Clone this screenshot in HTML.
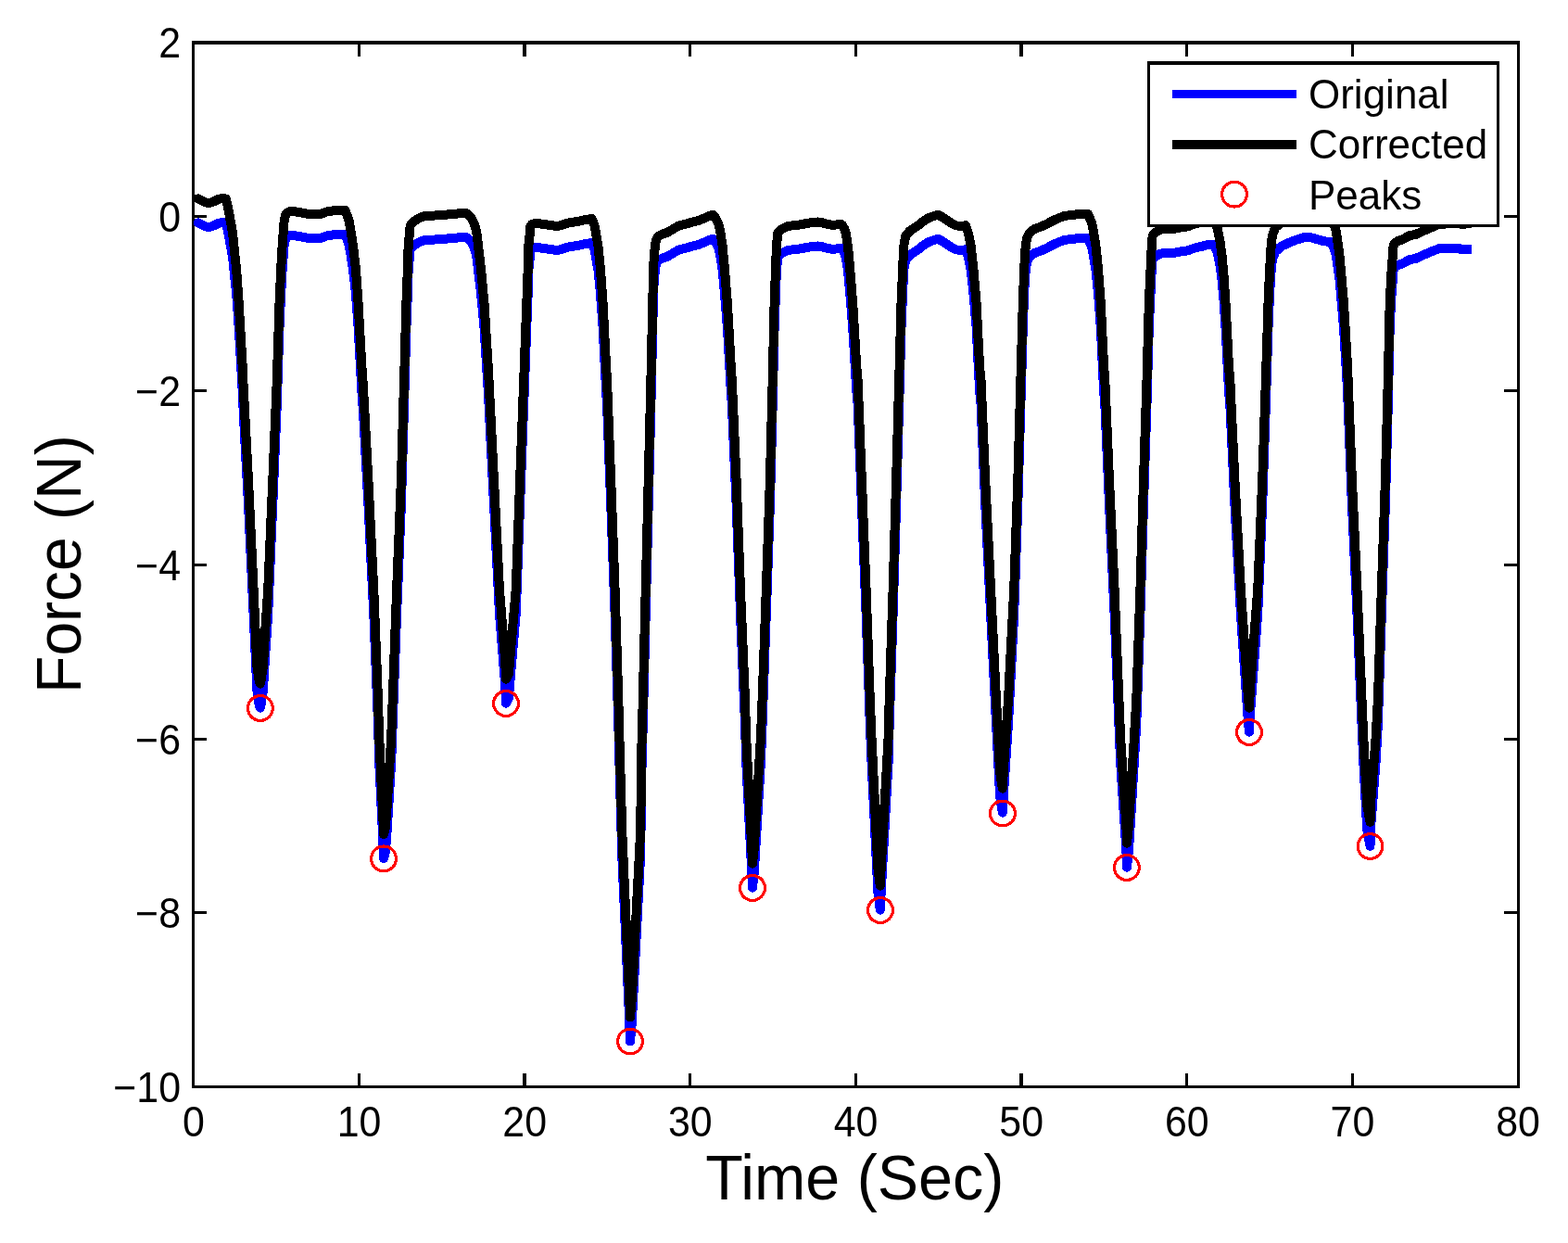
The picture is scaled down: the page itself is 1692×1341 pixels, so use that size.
<!DOCTYPE html>
<html lang="en"><head><meta charset="utf-8"><title>Force vs Time</title>
<style>
html,body{margin:0;padding:0;background:#fff;}
body{width:1692px;height:1341px;overflow:hidden;}
svg{display:block;}
text{font-family:"Liberation Sans",Arial,Helvetica,sans-serif;fill:#000;}
.tk{font-size:44px;}
.lb{font-size:66px;}
</style></head><body>
<svg width="1692" height="1341" viewBox="0 0 1692 1341">
<rect x="0" y="0" width="1692" height="1341" fill="#fff"/>
<g shape-rendering="crispEdges">
<rect x="207" y="44" width="1433" height="4" fill="#000"/>
<rect x="207" y="1171" width="1433" height="3" fill="#000"/>
<rect x="207" y="44" width="3" height="1130" fill="#000"/>
<rect x="1637" y="44" width="3" height="1130" fill="#000"/>
<rect x="386" y="1158" width="3" height="13" fill="#000"/>
<rect x="386" y="48" width="3" height="13" fill="#000"/>
<rect x="564" y="1158" width="4" height="13" fill="#000"/>
<rect x="564" y="48" width="4" height="13" fill="#000"/>
<rect x="743" y="1158" width="3" height="13" fill="#000"/>
<rect x="743" y="48" width="3" height="13" fill="#000"/>
<rect x="922" y="1158" width="3" height="13" fill="#000"/>
<rect x="922" y="48" width="3" height="13" fill="#000"/>
<rect x="1100" y="1158" width="4" height="13" fill="#000"/>
<rect x="1100" y="48" width="4" height="13" fill="#000"/>
<rect x="1279" y="1158" width="3" height="13" fill="#000"/>
<rect x="1279" y="48" width="3" height="13" fill="#000"/>
<rect x="1458" y="1158" width="3" height="13" fill="#000"/>
<rect x="1458" y="48" width="3" height="13" fill="#000"/>
<rect x="210" y="232" width="13" height="3" fill="#000"/>
<rect x="1623" y="232" width="14" height="3" fill="#000"/>
<rect x="210" y="420" width="13" height="3" fill="#000"/>
<rect x="1623" y="420" width="14" height="3" fill="#000"/>
<rect x="210" y="608" width="13" height="3" fill="#000"/>
<rect x="1623" y="608" width="14" height="3" fill="#000"/>
<rect x="210" y="796" width="13" height="3" fill="#000"/>
<rect x="1623" y="796" width="14" height="3" fill="#000"/>
<rect x="210" y="983" width="13" height="3" fill="#000"/>
<rect x="1623" y="983" width="14" height="3" fill="#000"/>
</g>
<g fill="none" stroke-linejoin="round" stroke-linecap="butt" stroke-width="10.0" shape-rendering="crispEdges">
<path stroke="#0000ff" d="M213.60,240.30 L218.00,242.40 L222.00,244.50 L227.00,244.70 L231.00,243.20 L235.00,241.20 L238.50,240.20 L241.00,240.10 L243.60,240.50 L246.00,249.40 L248.60,263.60 L251.10,277.70 L252.50,291.90 L253.90,306.10 L255.10,316.00 L257.70,353.20 L261.70,421.80 L262.80,446.00 L268.00,544.20 L273.60,662.40 L276.05,716.00 L277.50,745.50 L279.60,760.30 L280.90,763.60 L281.50,760.30 L283.90,745.50 L285.60,716.00 L289.20,662.40 L294.30,544.20 L298.80,436.00 L301.50,353.20 L303.20,316.00 L304.60,291.90 L305.60,277.70 L306.70,263.60 L308.50,257.00 L311.50,254.50 L314.80,254.00 L321.90,254.80 L332.60,257.00 L339.60,257.50 L346.70,256.70 L351.70,254.60 L360.90,253.10 L368.00,253.00 L372.50,253.10 L376.50,263.60 L379.00,277.70 L381.10,291.90 L383.90,316.00 L386.60,353.20 L390.40,421.80 L392.10,446.00 L397.40,544.20 L403.30,662.40 L408.00,780.60 L409.20,822.00 L413.30,906.00 L414.00,926.00 L415.50,920.80 L417.00,906.00 L422.20,822.00 L423.70,780.60 L428.10,662.40 L432.90,544.20 L435.80,446.00 L438.40,353.20 L439.90,316.00 L440.60,291.90 L441.90,277.70 L442.70,269.20 L447.00,264.80 L451.60,261.60 L458.30,258.90 L463.70,258.90 L476.40,258.00 L488.80,257.00 L498.00,256.00 L503.00,256.00 L508.30,260.70 L512.60,269.60 L514.70,279.50 L516.10,291.90 L519.00,316.00 L522.50,353.20 L527.00,426.00 L533.00,544.20 L539.00,662.40 L545.30,741.00 L546.00,758.60 L549.00,752.80 L549.85,741.00 L556.70,662.40 L561.10,544.20 L565.20,436.00 L568.30,353.20 L569.70,316.00 L570.30,291.90 L571.80,277.70 L572.40,269.90 L574.20,267.80 L577.70,267.00 L579.90,267.00 L587.00,268.00 L593.30,268.90 L600.40,270.00 L605.40,269.20 L609.60,267.50 L614.60,266.20 L622.40,265.10 L627.40,264.00 L630.90,263.10 L635.20,262.50 L638.70,262.10 L641.90,270.60 L643.10,277.70 L645.50,291.90 L647.90,316.00 L650.60,353.20 L654.10,421.80 L655.00,436.00 L659.20,544.20 L663.60,662.40 L667.30,780.60 L668.40,822.00 L671.30,924.20 L679.30,1104.00 L680.00,1123.50 L681.80,1104.00 L691.10,924.20 L692.60,822.00 L693.80,780.60 L696.70,662.40 L699.70,544.20 L702.40,436.00 L704.30,353.20 L705.00,316.00 L706.10,299.00 L707.40,288.40 L707.70,285.50 L709.90,281.30 L714.10,278.80 L720.50,276.70 L725.50,273.60 L732.60,269.50 L739.60,267.80 L746.70,265.70 L753.80,264.00 L760.90,261.10 L764.50,259.40 L768.00,258.10 L770.10,258.00 L775.20,267.10 L777.60,277.70 L779.70,291.90 L781.90,316.00 L784.90,353.20 L788.80,421.80 L789.80,436.00 L794.60,544.20 L799.00,662.40 L804.00,780.60 L805.20,822.00 L811.30,941.00 L812.00,957.65 L813.80,941.00 L820.90,822.00 L822.60,780.60 L826.80,662.40 L830.90,544.20 L833.70,436.00 L835.60,353.20 L837.00,316.00 L837.90,291.90 L838.90,281.30 L839.50,276.70 L844.50,272.60 L850.10,269.90 L857.60,269.10 L865.40,268.20 L869.60,267.10 L876.00,266.10 L882.10,265.50 L886.70,266.10 L891.60,267.50 L898.70,268.90 L905.10,268.10 L908.30,268.20 L910.80,272.00 L912.70,277.70 L915.00,291.90 L917.20,316.00 L920.20,353.20 L924.30,421.80 L925.60,436.00 L929.90,544.20 L934.60,662.40 L938.80,780.60 L940.50,822.00 L947.50,964.00 L949.80,981.65 L950.60,964.00 L958.60,822.00 L959.70,780.60 L963.60,662.40 L967.10,544.20 L970.20,436.00 L972.50,353.20 L974.10,316.00 L974.90,299.00 L975.60,288.40 L977.30,280.20 L982.00,274.90 L989.40,270.30 L995.80,265.00 L1002.50,260.90 L1008.90,258.60 L1012.80,258.00 L1018.80,261.40 L1025.90,266.50 L1031.60,269.40 L1038.30,269.90 L1041.90,269.20 L1044.90,277.70 L1047.70,291.90 L1050.40,316.00 L1053.60,353.20 L1057.10,421.80 L1058.50,436.00 L1063.20,544.20 L1069.10,662.40 L1075.00,780.60 L1079.10,859.00 L1081.80,876.65 L1082.80,859.00 L1088.00,780.60 L1094.20,662.40 L1098.30,544.20 L1101.40,436.00 L1103.80,353.20 L1105.20,316.00 L1106.10,299.00 L1107.10,288.40 L1108.40,282.00 L1111.20,277.00 L1116.20,273.10 L1124.70,269.90 L1131.10,267.00 L1134.60,264.80 L1141.70,261.60 L1148.80,258.90 L1155.90,258.00 L1163.00,257.20 L1170.10,257.00 L1174.20,257.20 L1178.30,267.10 L1180.20,277.70 L1182.50,291.90 L1185.00,316.00 L1187.80,353.20 L1191.10,421.80 L1192.30,436.00 L1197.00,544.20 L1202.60,662.40 L1207.40,780.60 L1209.10,822.00 L1215.45,918.00 L1215.90,935.65 L1217.95,918.00 L1223.90,822.00 L1226.30,780.60 L1230.40,662.40 L1234.00,544.20 L1237.50,436.00 L1239.80,353.20 L1241.30,321.90 L1242.20,300.60 L1243.10,286.50 L1243.60,280.80 L1246.30,276.90 L1251.20,274.00 L1256.20,272.90 L1264.70,273.50 L1270.40,271.90 L1281.70,270.40 L1288.80,267.60 L1295.90,266.10 L1303.00,264.10 L1306.60,264.00 L1310.10,264.10 L1313.80,272.30 L1316.50,286.50 L1318.40,300.60 L1320.40,321.90 L1322.50,353.20 L1326.00,421.80 L1327.30,436.00 L1332.40,544.20 L1338.90,662.40 L1346.40,771.00 L1347.90,789.65 L1348.90,771.00 L1357.20,662.40 L1362.20,544.20 L1365.90,436.00 L1368.50,353.20 L1369.90,321.90 L1371.00,300.60 L1372.00,286.50 L1373.60,278.00 L1376.30,271.60 L1382.00,266.10 L1390.50,262.00 L1399.00,258.70 L1406.80,256.30 L1411.70,255.60 L1417.40,257.00 L1425.90,259.50 L1433.00,260.90 L1436.50,261.30 L1441.20,272.30 L1443.40,286.50 L1445.40,300.60 L1447.30,321.90 L1450.00,353.20 L1454.10,421.80 L1454.60,436.00 L1458.90,544.20 L1464.50,662.40 L1469.50,780.60 L1471.30,822.00 L1475.20,895.00 L1478.50,912.65 L1478.90,895.00 L1484.60,822.00 L1486.90,780.60 L1490.80,662.40 L1494.90,544.20 L1497.80,436.00 L1499.70,353.20 L1501.30,321.90 L1502.90,300.60 L1503.10,295.00 L1504.10,289.30 L1508.40,286.10 L1513.40,284.30 L1520.50,280.40 L1527.60,278.90 L1534.60,275.70 L1541.70,272.60 L1548.80,269.80 L1553.10,268.10 L1575.10,268.10 L1576.00,268.90 L1587.80,268.90"/>
<circle cx="213.6" cy="240.3" r="5.0" fill="#0000ff" stroke="none"/>
<path stroke="#000" d="M213.60,214.30 L218.00,216.40 L222.00,218.50 L227.00,218.70 L231.00,217.20 L235.00,215.20 L238.50,214.20 L241.00,214.10 L243.60,214.50 L246.00,223.40 L248.60,237.60 L251.10,251.70 L252.50,265.90 L253.90,280.10 L255.10,290.00 L257.70,327.20 L261.70,395.80 L262.80,420.00 L268.00,518.20 L273.60,636.40 L276.05,690.00 L277.50,719.50 L279.60,734.30 L280.90,737.60 L281.50,734.30 L283.90,719.50 L285.60,690.00 L289.20,636.40 L294.30,518.20 L298.80,410.00 L301.50,327.20 L303.20,290.00 L304.60,265.90 L305.60,251.70 L306.70,237.60 L308.50,231.00 L311.50,228.50 L314.80,228.00 L321.90,228.80 L332.60,231.00 L339.60,231.50 L346.70,230.70 L351.70,228.60 L360.90,227.10 L368.00,227.00 L372.50,227.10 L376.50,237.60 L379.00,251.70 L381.10,265.90 L383.90,290.00 L386.60,327.20 L390.40,395.80 L392.10,420.00 L397.40,518.20 L403.30,636.40 L408.00,754.60 L409.20,796.00 L413.30,880.00 L414.00,900.00 L415.50,894.80 L417.00,880.00 L422.20,796.00 L423.70,754.60 L428.10,636.40 L432.90,518.20 L435.80,420.00 L438.40,327.20 L439.90,290.00 L440.60,265.90 L441.90,251.70 L442.70,243.20 L447.00,238.80 L451.60,235.60 L458.30,232.90 L463.70,232.90 L476.40,232.00 L488.80,231.00 L498.00,230.00 L503.00,230.00 L508.30,234.70 L512.60,243.60 L514.70,253.50 L516.10,265.90 L519.00,290.00 L522.50,327.20 L527.00,400.00 L533.00,518.20 L539.00,636.40 L545.30,715.00 L546.00,732.60 L549.00,726.80 L549.85,715.00 L556.70,636.40 L561.10,518.20 L565.20,410.00 L568.30,327.20 L569.70,290.00 L570.30,265.90 L571.80,251.70 L572.40,243.90 L574.20,241.80 L577.70,241.00 L579.90,241.00 L587.00,242.00 L593.30,242.90 L600.40,244.00 L605.40,243.20 L609.60,241.50 L614.60,240.20 L622.40,239.10 L627.40,238.00 L630.90,237.10 L635.20,236.50 L638.70,236.10 L641.90,244.60 L643.10,251.70 L645.50,265.90 L647.90,290.00 L650.60,327.20 L654.10,395.80 L655.00,410.00 L659.20,518.20 L663.60,636.40 L667.30,754.60 L668.40,796.00 L671.30,898.20 L679.30,1078.00 L680.00,1097.50 L681.80,1078.00 L691.10,898.20 L692.60,796.00 L693.80,754.60 L696.70,636.40 L699.70,518.20 L702.40,410.00 L704.30,327.20 L705.00,290.00 L706.10,273.00 L707.40,262.40 L707.70,259.50 L709.90,255.30 L714.10,252.80 L720.50,250.70 L725.50,247.60 L732.60,243.50 L739.60,241.80 L746.70,239.70 L753.80,238.00 L760.90,235.10 L764.50,233.40 L768.00,232.10 L770.10,232.00 L775.20,241.10 L777.60,251.70 L779.70,265.90 L781.90,290.00 L784.90,327.20 L788.80,395.80 L789.80,410.00 L794.60,518.20 L799.00,636.40 L804.00,754.60 L805.20,796.00 L811.30,915.00 L812.00,931.65 L813.80,915.00 L820.90,796.00 L822.60,754.60 L826.80,636.40 L830.90,518.20 L833.70,410.00 L835.60,327.20 L837.00,290.00 L837.90,265.90 L838.90,255.30 L839.50,250.70 L844.50,246.60 L850.10,243.90 L857.60,243.10 L865.40,242.20 L869.60,241.10 L876.00,240.10 L882.10,239.50 L886.70,240.10 L891.60,241.50 L898.70,242.90 L905.10,242.10 L908.30,242.20 L910.80,246.00 L912.70,251.70 L915.00,265.90 L917.20,290.00 L920.20,327.20 L924.30,395.80 L925.60,410.00 L929.90,518.20 L934.60,636.40 L938.80,754.60 L940.50,796.00 L947.50,938.00 L949.80,955.65 L950.60,938.00 L958.60,796.00 L959.70,754.60 L963.60,636.40 L967.10,518.20 L970.20,410.00 L972.50,327.20 L974.10,290.00 L974.90,273.00 L975.60,262.40 L977.30,254.20 L982.00,248.90 L989.40,244.30 L995.80,239.00 L1002.50,234.90 L1008.90,232.60 L1012.80,232.00 L1018.80,235.40 L1025.90,240.50 L1031.60,243.40 L1038.30,243.90 L1041.90,243.20 L1044.90,251.70 L1047.70,265.90 L1050.40,290.00 L1053.60,327.20 L1057.10,395.80 L1058.50,410.00 L1063.20,518.20 L1069.10,636.40 L1075.00,754.60 L1079.10,833.00 L1081.80,850.65 L1082.80,833.00 L1088.00,754.60 L1094.20,636.40 L1098.30,518.20 L1101.40,410.00 L1103.80,327.20 L1105.20,290.00 L1106.10,273.00 L1107.10,262.40 L1108.40,256.00 L1111.20,251.00 L1116.20,247.10 L1124.70,243.90 L1131.10,241.00 L1134.60,238.80 L1141.70,235.60 L1148.80,232.90 L1155.90,232.00 L1163.00,231.20 L1170.10,231.00 L1174.20,231.20 L1178.30,241.10 L1180.20,251.70 L1182.50,265.90 L1185.00,290.00 L1187.80,327.20 L1191.10,395.80 L1192.30,410.00 L1197.00,518.20 L1202.60,636.40 L1207.40,754.60 L1209.10,796.00 L1215.45,892.00 L1215.90,909.65 L1217.95,892.00 L1223.90,796.00 L1226.30,754.60 L1230.40,636.40 L1234.00,518.20 L1237.50,410.00 L1239.80,327.20 L1241.30,295.90 L1242.20,274.60 L1243.10,260.50 L1243.60,254.80 L1246.30,250.90 L1251.20,248.00 L1256.20,246.90 L1264.70,247.50 L1270.40,245.90 L1281.70,244.40 L1288.80,241.60 L1295.90,240.10 L1303.00,238.10 L1306.60,238.00 L1310.10,238.10 L1313.80,246.30 L1316.50,260.50 L1318.40,274.60 L1320.40,295.90 L1322.50,327.20 L1326.00,395.80 L1327.30,410.00 L1332.40,518.20 L1338.90,636.40 L1346.40,745.00 L1347.90,763.65 L1348.90,745.00 L1357.20,636.40 L1362.20,518.20 L1365.90,410.00 L1368.50,327.20 L1369.90,295.90 L1371.00,274.60 L1372.00,260.50 L1373.60,252.00 L1376.30,245.60 L1382.00,240.10 L1390.50,236.00 L1399.00,232.70 L1406.80,230.30 L1411.70,229.60 L1417.40,231.00 L1425.90,233.50 L1433.00,234.90 L1436.50,235.30 L1441.20,246.30 L1443.40,260.50 L1445.40,274.60 L1447.30,295.90 L1450.00,327.20 L1454.10,395.80 L1454.60,410.00 L1458.90,518.20 L1464.50,636.40 L1469.50,754.60 L1471.30,796.00 L1475.20,869.00 L1478.50,886.65 L1478.90,869.00 L1484.60,796.00 L1486.90,754.60 L1490.80,636.40 L1494.90,518.20 L1497.80,410.00 L1499.70,327.20 L1501.30,295.90 L1502.90,274.60 L1503.10,269.00 L1504.10,263.30 L1508.40,260.10 L1513.40,258.30 L1520.50,254.40 L1527.60,252.90 L1534.60,249.70 L1541.70,246.60 L1548.80,243.60 L1553.10,241.60 L1575.10,241.30 L1576.00,241.60 L1587.80,241.40"/>
<circle cx="213.6" cy="214.3" r="5.0" fill="#000" stroke="none"/>
</g>
<g fill="none" stroke="#ff0000" stroke-width="3.2" shape-rendering="crispEdges">
<circle cx="280.9" cy="764.0" r="13.4"/>
<circle cx="414.0" cy="926.4" r="13.4"/>
<circle cx="546.0" cy="759.0" r="13.4"/>
<circle cx="680.0" cy="1123.5" r="13.4"/>
<circle cx="812.0" cy="958.0" r="13.4"/>
<circle cx="950.0" cy="982.0" r="13.4"/>
<circle cx="1081.9" cy="877.5" r="13.4"/>
<circle cx="1215.9" cy="936.0" r="13.4"/>
<circle cx="1348.0" cy="790.0" r="13.4"/>
<circle cx="1478.5" cy="913.0" r="13.4"/>
</g>
<text class="tk" text-anchor="middle" transform="translate(208.90,1225.90) scale(0.975,1.03)">0</text>
<text class="tk" text-anchor="middle" transform="translate(387.55,1225.90) scale(0.975,1.03)">10</text>
<text class="tk" text-anchor="middle" transform="translate(566.20,1225.90) scale(0.975,1.03)">20</text>
<text class="tk" text-anchor="middle" transform="translate(744.85,1225.90) scale(0.975,1.03)">30</text>
<text class="tk" text-anchor="middle" transform="translate(923.50,1225.90) scale(0.975,1.03)">40</text>
<text class="tk" text-anchor="middle" transform="translate(1102.15,1225.90) scale(0.975,1.03)">50</text>
<text class="tk" text-anchor="middle" transform="translate(1280.80,1225.90) scale(0.975,1.03)">60</text>
<text class="tk" text-anchor="middle" transform="translate(1459.45,1225.90) scale(0.975,1.03)">70</text>
<text class="tk" text-anchor="middle" transform="translate(1638.10,1225.90) scale(0.975,1.03)">80</text>
<text class="tk" text-anchor="end" transform="translate(195.00,61.50) scale(0.975,1.03)">2</text>
<text class="tk" text-anchor="end" transform="translate(195.00,249.50) scale(0.975,1.03)">0</text>
<text class="tk" text-anchor="end" transform="translate(195.00,437.50) scale(0.975,1.03)">−2</text>
<text class="tk" text-anchor="end" transform="translate(195.00,625.50) scale(0.975,1.03)">−4</text>
<text class="tk" text-anchor="end" transform="translate(195.00,813.50) scale(0.975,1.03)">−6</text>
<text class="tk" text-anchor="end" transform="translate(195.00,1000.50) scale(0.975,1.03)">−8</text>
<text class="tk" text-anchor="end" transform="translate(195.00,1188.50) scale(0.975,1.03)">−10</text>
<text class="lb" text-anchor="middle" transform="translate(922.20,1293.80) scale(1.006,1.03)">Time (Sec)</text>
<text class="lb" text-anchor="middle" transform="translate(87.30,608.60) rotate(-90) scale(1,1.03)">Force (N)</text>
<g shape-rendering="crispEdges">
<rect x="1238" y="66" width="380" height="179" fill="#000"/>
<rect x="1241" y="70" width="374" height="172" fill="#fff"/>
<rect x="1265" y="97" width="134" height="9" fill="#0000ff"/>
<rect x="1265" y="151" width="134" height="10" fill="#000"/>
</g>
<circle cx="1332" cy="209.6" r="13.4" fill="none" stroke="#ff0000" stroke-width="3.2" shape-rendering="crispEdges"/>
<text class="tk" text-anchor="start" transform="translate(1412.00,116.80) scale(1,1.02)">Original</text>
<text class="tk" text-anchor="start" transform="translate(1412.00,171.00) scale(1,1.02)">Corrected</text>
<text class="tk" text-anchor="start" transform="translate(1412.00,225.60) scale(1,1.02)">Peaks</text>
</svg>
</body></html>
